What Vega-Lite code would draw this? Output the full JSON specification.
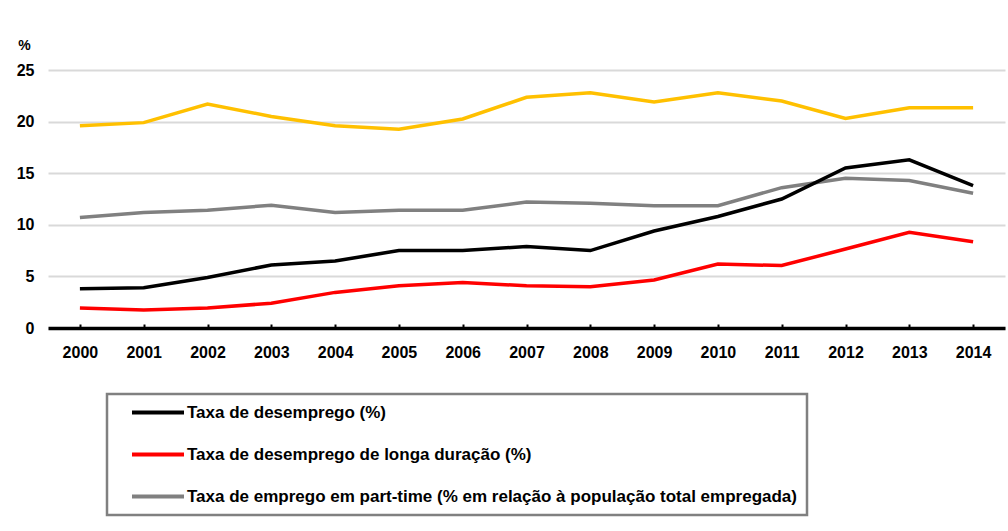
{
  "$schema": "https://vega.github.io/schema/vega-lite/v6.json",
  "width": 957,
  "height": 258,
  "autosize": {"type": "none"},
  "padding": {"left": 48, "top": 70, "right": 3, "bottom": 203},
  "background": "white",
  "config": {"view": {"stroke": null}, "font": "Liberation Sans"},
  "data": {"values": [
    {"ano": "2000", "serie": "Série 4", "valor": 19.6},
    {"ano": "2001", "serie": "Série 4", "valor": 19.9},
    {"ano": "2002", "serie": "Série 4", "valor": 21.7},
    {"ano": "2003", "serie": "Série 4", "valor": 20.5},
    {"ano": "2004", "serie": "Série 4", "valor": 19.6},
    {"ano": "2005", "serie": "Série 4", "valor": 19.25},
    {"ano": "2006", "serie": "Série 4", "valor": 20.25},
    {"ano": "2007", "serie": "Série 4", "valor": 22.35},
    {"ano": "2008", "serie": "Série 4", "valor": 22.8},
    {"ano": "2009", "serie": "Série 4", "valor": 21.9},
    {"ano": "2010", "serie": "Série 4", "valor": 22.8},
    {"ano": "2011", "serie": "Série 4", "valor": 22.0},
    {"ano": "2012", "serie": "Série 4", "valor": 20.3},
    {"ano": "2013", "serie": "Série 4", "valor": 21.35},
    {"ano": "2014", "serie": "Série 4", "valor": 21.35},
    {"ano": "2000", "serie": "Taxa de emprego em part-time (% em relação à população total empregada)", "valor": 10.7},
    {"ano": "2001", "serie": "Taxa de emprego em part-time (% em relação à população total empregada)", "valor": 11.2},
    {"ano": "2002", "serie": "Taxa de emprego em part-time (% em relação à população total empregada)", "valor": 11.4},
    {"ano": "2003", "serie": "Taxa de emprego em part-time (% em relação à população total empregada)", "valor": 11.9},
    {"ano": "2004", "serie": "Taxa de emprego em part-time (% em relação à população total empregada)", "valor": 11.2},
    {"ano": "2005", "serie": "Taxa de emprego em part-time (% em relação à população total empregada)", "valor": 11.4},
    {"ano": "2006", "serie": "Taxa de emprego em part-time (% em relação à população total empregada)", "valor": 11.4},
    {"ano": "2007", "serie": "Taxa de emprego em part-time (% em relação à população total empregada)", "valor": 12.2},
    {"ano": "2008", "serie": "Taxa de emprego em part-time (% em relação à população total empregada)", "valor": 12.1},
    {"ano": "2009", "serie": "Taxa de emprego em part-time (% em relação à população total empregada)", "valor": 11.85},
    {"ano": "2010", "serie": "Taxa de emprego em part-time (% em relação à população total empregada)", "valor": 11.85},
    {"ano": "2011", "serie": "Taxa de emprego em part-time (% em relação à população total empregada)", "valor": 13.6},
    {"ano": "2012", "serie": "Taxa de emprego em part-time (% em relação à população total empregada)", "valor": 14.5},
    {"ano": "2013", "serie": "Taxa de emprego em part-time (% em relação à população total empregada)", "valor": 14.3},
    {"ano": "2014", "serie": "Taxa de emprego em part-time (% em relação à população total empregada)", "valor": 13.05},
    {"ano": "2000", "serie": "Taxa de desemprego de longa duração (%)", "valor": 1.94},
    {"ano": "2001", "serie": "Taxa de desemprego de longa duração (%)", "valor": 1.75},
    {"ano": "2002", "serie": "Taxa de desemprego de longa duração (%)", "valor": 1.94},
    {"ano": "2003", "serie": "Taxa de desemprego de longa duração (%)", "valor": 2.4},
    {"ano": "2004", "serie": "Taxa de desemprego de longa duração (%)", "valor": 3.45},
    {"ano": "2005", "serie": "Taxa de desemprego de longa duração (%)", "valor": 4.1},
    {"ano": "2006", "serie": "Taxa de desemprego de longa duração (%)", "valor": 4.4},
    {"ano": "2007", "serie": "Taxa de desemprego de longa duração (%)", "valor": 4.1},
    {"ano": "2008", "serie": "Taxa de desemprego de longa duração (%)", "valor": 4.0},
    {"ano": "2009", "serie": "Taxa de desemprego de longa duração (%)", "valor": 4.65},
    {"ano": "2010", "serie": "Taxa de desemprego de longa duração (%)", "valor": 6.2},
    {"ano": "2011", "serie": "Taxa de desemprego de longa duração (%)", "valor": 6.05},
    {"ano": "2012", "serie": "Taxa de desemprego de longa duração (%)", "valor": 7.65},
    {"ano": "2013", "serie": "Taxa de desemprego de longa duração (%)", "valor": 9.27},
    {"ano": "2014", "serie": "Taxa de desemprego de longa duração (%)", "valor": 8.36},
    {"ano": "2000", "serie": "Taxa de desemprego (%)", "valor": 3.8},
    {"ano": "2001", "serie": "Taxa de desemprego (%)", "valor": 3.9},
    {"ano": "2002", "serie": "Taxa de desemprego (%)", "valor": 4.9},
    {"ano": "2003", "serie": "Taxa de desemprego (%)", "valor": 6.1},
    {"ano": "2004", "serie": "Taxa de desemprego (%)", "valor": 6.5},
    {"ano": "2005", "serie": "Taxa de desemprego (%)", "valor": 7.5},
    {"ano": "2006", "serie": "Taxa de desemprego (%)", "valor": 7.5},
    {"ano": "2007", "serie": "Taxa de desemprego (%)", "valor": 7.9},
    {"ano": "2008", "serie": "Taxa de desemprego (%)", "valor": 7.5},
    {"ano": "2009", "serie": "Taxa de desemprego (%)", "valor": 9.4},
    {"ano": "2010", "serie": "Taxa de desemprego (%)", "valor": 10.8},
    {"ano": "2011", "serie": "Taxa de desemprego (%)", "valor": 12.5},
    {"ano": "2012", "serie": "Taxa de desemprego (%)", "valor": 15.5},
    {"ano": "2013", "serie": "Taxa de desemprego (%)", "valor": 16.3},
    {"ano": "2014", "serie": "Taxa de desemprego (%)", "valor": 13.8}
  ]},
  "mark": {"type": "line", "strokeWidth": 3.5},
  "encoding": {
    "x": {
      "field": "ano", "type": "ordinal",
      "scale": {"type": "point", "padding": 0.5},
      "axis": {
        "title": null, "labelAngle": 0, "labelFontSize": 16, "labelFontWeight": "bold",
        "labelColor": "#000000", "domainColor": "#000000", "domainWidth": 3.5,
        "ticks": true, "tickColor": "#000000", "tickSize": -4, "tickWidth": 2,
        "labelPadding": 20, "grid": false
      }
    },
    "y": {
      "field": "valor", "type": "quantitative",
      "scale": {"domain": [0, 25]},
      "axis": {
        "title": "%", "titleAngle": 0, "titleX": -24, "titleY": -25,
        "titleAlign": "center", "titleBaseline": "middle", "titleFontSize": 14,
        "titleFontWeight": "bold", "titleColor": "#000000",
        "labelFontSize": 16, "labelFontWeight": "bold", "labelColor": "#000000",
        "labelPadding": 14, "ticks": false, "domain": false,
        "gridColor": "#d9d9d9", "gridWidth": 2, "values": [0, 5, 10, 15, 20, 25]
      }
    },
    "color": {
      "field": "serie", "type": "nominal",
      "scale": {
        "domain": ["Série 4", "Taxa de emprego em part-time (% em relação à população total empregada)", "Taxa de desemprego de longa duração (%)", "Taxa de desemprego (%)"],
        "range": ["#FFC000", "#808080", "#FF0000", "#000000"]
      },
      "legend": {
        "values": ["Taxa de desemprego (%)", "Taxa de desemprego de longa duração (%)", "Taxa de emprego em part-time (% em relação à população total empregada)"],
        "orient": "none", "legendX": 59, "legendY": 324, "direction": "vertical",
        "title": null, "strokeColor": "#808080", "padding": 10,
        "symbolType": "M1,0H9", "symbolSize": 169, "symbolStrokeWidth": 4,
        "labelOffset": 53, "labelFontSize": 17, "labelFontWeight": "bold",
        "labelColor": "#000000", "labelLimit": 1000, "rowPadding": 24,
        "encode": {"legend": {"update": {"strokeWidth": {"value": 2.5}}}}
      }
    }
  }
}
